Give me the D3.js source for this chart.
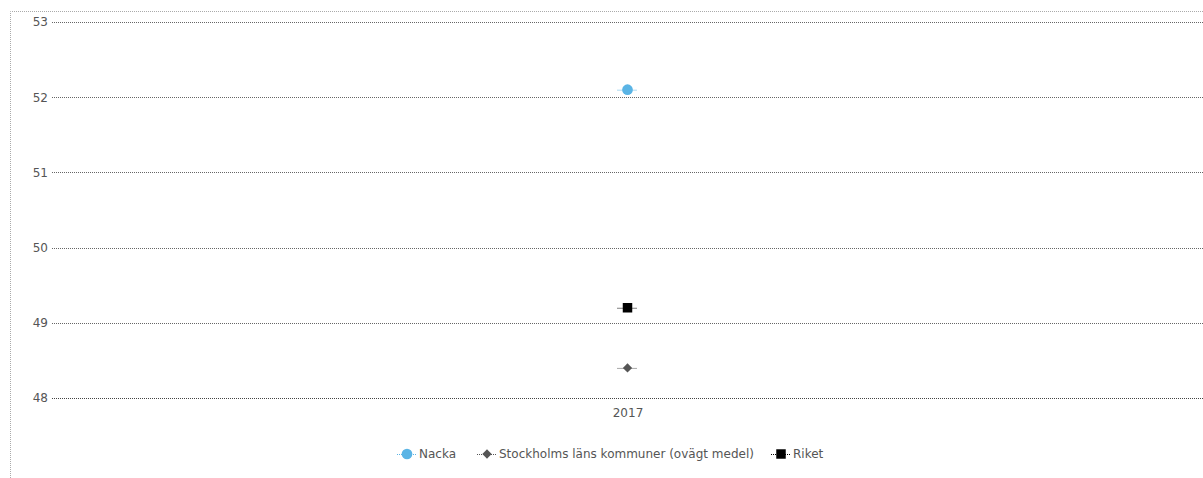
<!DOCTYPE html>
<html><head><meta charset="utf-8">
<script src="https://cdn.jsdelivr.net/npm/d3@7"></script>
<style>body{margin:0;background:#fff;}svg{display:block;font-family:"DejaVu Sans",sans-serif;}</style>
</head><body><svg id="c" width="1203" height="478"></svg>
<script>
const categories = ["2017"];
const seriesNames = ["Nacka", "Stockholms läns kommuner (ovägt medel)", "Riket"];
const nacka = [52.1];
const stockholm = [48.4];
const riket = [49.2];
const yTicks = [48, 49, 50, 51, 52, 53];

const svg = d3.select("#c");
const W = 1203, H = 478;
const m = {l: 52, r: 0, t: 22, b: 80};
const x = d3.scalePoint().domain(categories).range([m.l, W - m.r]).padding(0.5);
const y = d3.scaleLinear().domain([48, 53]).range([398, 22]);

// outer dotted border
svg.append("path").attr("d", `M10.5,${H} V11.5 H${W}`).attr("fill", "none")
  .attr("stroke", "#aaa").attr("stroke-dasharray", "1,1");

// grid
const ga = svg.append("g").attr("transform", `translate(${m.l},0)`)
  .call(d3.axisLeft(y).tickValues(yTicks).tickSize(0).tickPadding(4).tickFormat(d3.format("d")));
ga.select(".domain").remove();
ga.selectAll("text").attr("fill", "#555").style("font-size", "12px").style("font-family", "DejaVu Sans");
svg.append("g").selectAll("line").data(yTicks).join("line")
  .attr("x1", m.l).attr("x2", W).attr("y1", d => Math.round(y(d)) + 0.5).attr("y2", d => Math.round(y(d)) + 0.5)
  .attr("stroke", d => d === 48 ? "#444" : "#666").attr("stroke-dasharray", "1,1");

// x axis
const xa = svg.append("g").attr("transform", `translate(0,398)`)
  .call(d3.axisBottom(x).tickSize(0).tickPadding(10));
xa.select(".domain").remove();
xa.selectAll("text").attr("fill", "#555").style("font-size", "12px").style("font-family", "DejaVu Sans");

const colors = ["#5ab4e5", "#555555", "#000000"];
const data = [nacka, stockholm, riket];
const sym = [d3.symbolCircle, d3.symbolDiamond2, d3.symbolSquare];
const sizes = [90, 55, 90];

function marker(g, i, cx, cy) {
  g.append("line").attr("x1", cx - 10).attr("x2", cx + 10).attr("y1", cy + 0.5).attr("y2", cy + 0.5)
    .attr("stroke", colors[i]).attr("stroke-dasharray", "1,1");
  g.append("path").attr("d", d3.symbol().type(sym[i]).size(sizes[i])())
    .attr("transform", `translate(${cx},${cy})`).attr("fill", colors[i]);
}

data.forEach((arr, i) => {
  const g = svg.append("g");
  arr.forEach((v, j) => marker(g, i, x(categories[j]), y(v)));
});

// legend
const legX = [407, 487, 781];
const leg = svg.append("g");
seriesNames.forEach((n, i) => {
  marker(leg, i, legX[i], 454);
  leg.append("text").attr("x", legX[i] + 12).attr("y", 458).text(n)
    .attr("fill", "#555").style("font-size", "12px");
});
</script></body></html>
